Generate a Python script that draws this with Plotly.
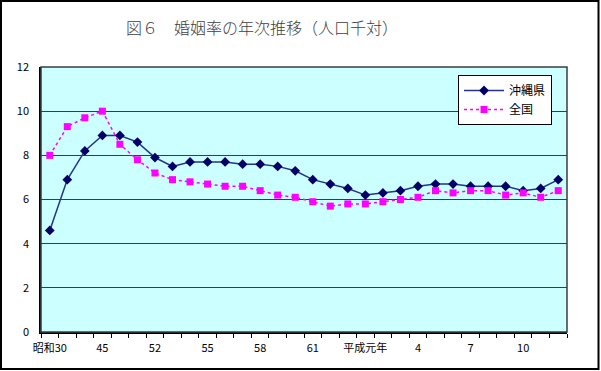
import plotly.graph_objects as go

categories = ["昭和30", "35", "40", "45", "50", "51", "52", "53", "54", "55", "56", "57", "58", "59", "60",
              "61", "62", "63", "平成元年", "2", "3", "4", "5", "6", "7", "8", "9", "10", "11", "12"]
okinawa = [4.6, 6.9, 8.2, 8.9, 8.9, 8.6, 7.9, 7.5, 7.7, 7.7, 7.7, 7.6, 7.6, 7.5, 7.3,
           6.9, 6.7, 6.5, 6.2, 6.3, 6.4, 6.6, 6.7, 6.7, 6.6, 6.6, 6.6, 6.4, 6.5, 6.9]
zenkoku = [8.0, 9.3, 9.7, 10.0, 8.5, 7.8, 7.2, 6.9, 6.8, 6.7, 6.6, 6.6, 6.4, 6.2, 6.1,
           5.9, 5.7, 5.8, 5.8, 5.9, 6.0, 6.1, 6.4, 6.3, 6.4, 6.4, 6.2, 6.3, 6.1, 6.4]
tick_labels = ["昭和30", "45", "52", "55", "58", "61", "平成元年", "4", "7", "10"]
y_ticks = [0, 2, 4, 6, 8, 10, 12]

xpos = list(range(len(categories)))
tick_pos = [categories.index(t) for t in tick_labels]

FONT = "Noto Sans CJK JP"
W, H = 601, 371
L, R, T, B = 41, 34, 67, 39
PW, PH = W - L - R, H - T - B


def px_x(x):
    return (x - L) / PW


def px_y(y):
    return (H - B - y) / PH


fig = go.Figure()
fig.add_trace(go.Scatter(
    x=xpos, y=okinawa, name="沖縄県", mode="lines+markers",
    line=dict(color="#23338a", width=1.5),
    marker=dict(symbol="diamond", size=7.5, color="#000066"),
    customdata=categories,
))
fig.add_trace(go.Scatter(
    x=xpos, y=zenkoku, name="全国", mode="lines+markers",
    line=dict(color="#ff00ff", width=1.5, dash="dot"),
    marker=dict(symbol="square", size=7, color="#ff00ff"),
    customdata=categories,
))

fig.update_layout(
    width=W, height=H,
    margin=dict(l=L, r=R, t=T, b=B, autoexpand=False),
    paper_bgcolor="white",
    plot_bgcolor="#ccffff",
    font=dict(family=FONT, size=11, color="#000000"),
    title=dict(text="図６　婚姻率の年次推移（人口千対）", x=262 / W, xanchor="center",
               y=1 - 28 / H, yanchor="middle",
               font=dict(family=FONT, size=16, color="#404040", weight=300)),
    showlegend=True,
    legend=dict(x=px_x(458), y=px_y(75), xanchor="left", yanchor="top",
                xref="paper", yref="paper",
                bgcolor="white", bordercolor="#000000", borderwidth=1,
                font=dict(family=FONT, size=12, color="#000000"),
                tracegroupgap=0, itemwidth=40),
    shapes=[
        dict(type="rect", xref="paper", yref="paper", x0=px_x(1), x1=px_x(598.5),
             y0=px_y(369), y1=px_y(1),
             line=dict(color="#000000", width=2), layer="below"),
    ],
)

fig.update_xaxes(
    range=[-0.5, len(categories) - 0.5],
    tickmode="array", tickvals=tick_pos, ticktext=tick_labels,
    ticks="", showgrid=False, zeroline=False,
    showline=True, linecolor="#000000", linewidth=1.5, mirror=False,
    ticklabelstandoff=5,
    tickfont=dict(family=FONT, size=11, color="#000000"),
    minor=dict(ticks="outside", tick0=0.5, dtick=1, ticklen=4, tickcolor="#000000", showgrid=False),
    fixedrange=True,
)
fig.update_yaxes(
    range=[0, 12], tickvals=y_ticks,
    showgrid=True, gridcolor="#3c3c3c", gridwidth=1.2,
    zeroline=False, showline=True, linecolor="#000000", linewidth=1.5, mirror=False,
    ticks="", ticklabelstandoff=8,
    tickfont=dict(family=FONT, size=11, color="#000000"),
    fixedrange=True,
)
# plot area frame (top / right)
fig.add_shape(type="rect", xref="paper", yref="paper", x0=0, x1=1, y0=0, y1=1,
              line=dict(color="#3c3c3c", width=1.5))

fig.write_html("out.html", config={"displayModeBar": False},
               post_script="document.body.style.margin='0';document.body.style.padding='0';")
